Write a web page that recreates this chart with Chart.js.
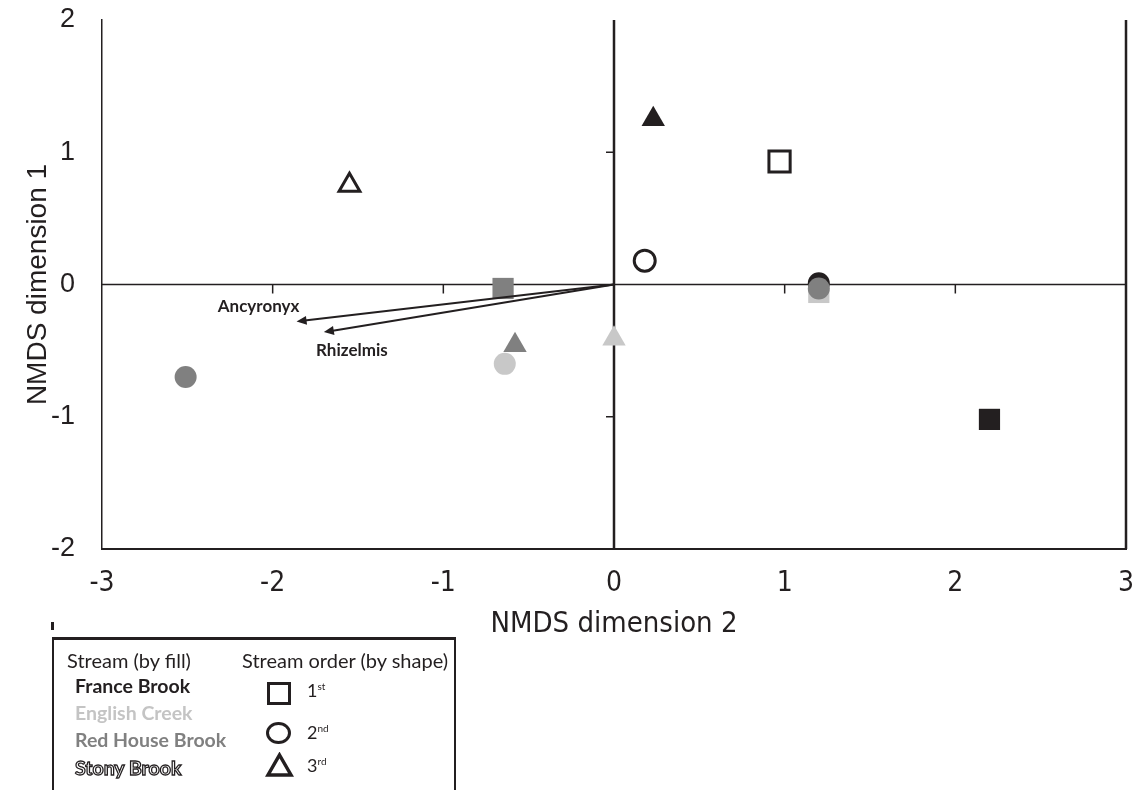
<!DOCTYPE html>
<html>
<head>
<meta charset="utf-8">
<script src="https://cdn.jsdelivr.net/npm/chart.js@4.4.1/dist/chart.umd.min.js"></script>
<style>
  body { margin: 0; background: #fff; width: 1144px; height: 790px; overflow: hidden; position: relative; font-family: Lato, "Open Sans", sans-serif; color: #231f20; }
  #wrap { position: absolute; left: 0; top: 0; width: 1144px; height: 660px; }
  .lg { position: absolute; white-space: nowrap; line-height: 1; }
  .hd { font-size: 20px; }
  .st { font-size: 19.5px; font-weight: bold; }
  .ord { font-size: 18px; }
  .ord sup { font-size: 10px; vertical-align: 7px; }
  #box { position: absolute; left: 52px; top: 637px; width: 400px; height: 200px; border: 3px solid #231f20; border-left-width: 2.5px; border-right-width: 2.5px; }
  #nub { position: absolute; left: 51px; top: 622px; width: 3px; height: 8px; background: #231f20; }
</style>
</head>
<body>
<div id="wrap"><canvas id="nmds"></canvas></div>

<div id="nub"></div>
<div id="box"></div>
<div class="lg hd" style="left:67px; top:650px;">Stream (by fill)</div>
<div class="lg hd" style="left:242px; top:650px;">Stream order (by shape)</div>
<div class="lg st" style="left:75px; top:676px; color:#231f20;">France Brook</div>
<div class="lg st" style="left:75px; top:703px; color:#c4c4c4;">English Creek</div>
<div class="lg st" style="left:75px; top:730px; color:#808080;">Red House Brook</div>
<div class="lg st" style="left:75px; top:758px; color:#fff; -webkit-text-stroke: 1.3px #231f20;">Stony Brook</div>
<div class="lg" style="left:267px; top:682px; width:24px; height:23px; border:3px solid #231f20; box-sizing:border-box;"></div>
<div class="lg" style="left:266px; top:722px; width:25px; height:22px; border:3px solid #231f20; border-radius:50%; box-sizing:border-box;"></div>
<svg class="lg" style="left:265px; top:752px;" width="29" height="26"><polygon points="14.5,3 26,23 3,23" fill="none" stroke="#231f20" stroke-width="3.5" stroke-linejoin="miter"/></svg>
<div class="lg ord" style="left:307px; top:681px;">1<sup>st</sup></div>
<div class="lg ord" style="left:307px; top:723px;">2<sup>nd</sup></div>
<div class="lg ord" style="left:307px; top:756px;">3<sup>rd</sup></div>

<script>
// site scores: NMDS dimension 2 (x), dimension 1 (y) and stream order of each site
const franceX = [2.20, 1.20, 0.23];
const franceY = [-1.02, 0.01, 1.25];
const franceOrder = [1, 2, 3];
const englishX = [1.20, -0.64, 0.00];
const englishY = [-0.06, -0.60, -0.41];
const englishOrder = [1, 2, 3];
const redHouseX = [-0.65, -2.51, -0.58, 1.20];
const redHouseY = [-0.03, -0.70, -0.46, -0.03];
const redHouseOrder = [1, 2, 3, 2];
const stonyX = [0.97, 0.18, -1.55];
const stonyY = [0.93, 0.18, 0.75];
const stonyOrder = [1, 2, 3];

// taxon vectors
const vectorNames = ['Ancyronyx', 'Rhizelmis'];
const vectorX = [-1.86, -1.70];
const vectorY = [-0.28, -0.36];

const xTicks = [-3, -2, -1, 0, 1, 2, 3];
const yTicks = [-2, -1, 0, 1, 2];

const ink = '#231f20';
const shapes = { 1: 'rect', 2: 'circle', 3: 'triangle' };
const sizesFilled = { 1: 15, 2: 11, 3: 13.5 };
const sizesOpen = { 1: 15, 2: 10.5, 3: 12 };

const makeSet = (label, xs, ys, ord, fill, open, order) => {
  return {
    label: label,
    order: order,
    data: xs.map((v, i) => ({ x: v, y: ys[i] })),
    pointStyle: ord.map((o) => shapes[o]),
    pointRadius: ord.map((o) => (open ? sizesOpen[o] : sizesFilled[o])),
    backgroundColor: fill,
    borderColor: open ? ink : fill,
    borderWidth: open ? 3 : 0,
  };
};

// zero lines with their tick marks, plus the right frame
const crossPlugin = {
  id: 'cross',
  beforeDatasetsDraw(chart) {
    const { ctx, chartArea: a, scales: { x, y } } = chart;
    const x0 = x.getPixelForValue(0);
    const y0 = y.getPixelForValue(0);
    const line = (x1, y1, x2, y2) => { ctx.beginPath(); ctx.moveTo(x1, y1); ctx.lineTo(x2, y2); ctx.stroke(); };
    ctx.save();
    ctx.strokeStyle = ink;
    ctx.lineWidth = 2.5;
    line(a.right, a.top, a.right, a.bottom);
    ctx.lineWidth = 1.5;
    line(a.left, y0, a.right, y0);
    xTicks.forEach((v) => {
      if (v !== 0 && Math.abs(v) !== 3) line(x.getPixelForValue(v), y0, x.getPixelForValue(v), y0 + 9);
    });
    ctx.lineWidth = 2.5;
    line(x0, a.top, x0, a.bottom);
    ctx.lineWidth = 1.5;
    yTicks.forEach((v) => {
      if (v !== 0 && Math.abs(v) !== 2) line(x0 - 8, y.getPixelForValue(v), x0, y.getPixelForValue(v));
    });
    ctx.restore();
  },
  afterDatasetsDraw(chart) {
    const { ctx, scales: { x, y } } = chart;
    const ox = x.getPixelForValue(0);
    const oy = y.getPixelForValue(0);
    const labelOffsets = [[-38, -15], [28, 18]];
    ctx.save();
    ctx.strokeStyle = ink;
    ctx.fillStyle = ink;
    ctx.lineWidth = 2;
    vectorNames.forEach((name, i) => {
      const tx = x.getPixelForValue(vectorX[i]);
      const ty = y.getPixelForValue(vectorY[i]);
      const ang = Math.atan2(ty - oy, tx - ox);
      ctx.beginPath();
      ctx.moveTo(ox, oy);
      ctx.lineTo(tx - Math.cos(ang) * 6, ty - Math.sin(ang) * 6);
      ctx.stroke();
      ctx.beginPath();
      ctx.moveTo(tx, ty);
      ctx.lineTo(tx - Math.cos(ang) * 10 + Math.sin(ang) * 4.5, ty - Math.sin(ang) * 10 - Math.cos(ang) * 4.5);
      ctx.lineTo(tx - Math.cos(ang) * 10 - Math.sin(ang) * 4.5, ty - Math.sin(ang) * 10 + Math.cos(ang) * 4.5);
      ctx.closePath();
      ctx.fill();
      ctx.font = 'bold 17px Lato, sans-serif';
      ctx.textAlign = 'center';
      ctx.textBaseline = 'middle';
      ctx.fillText(name, tx + labelOffsets[i][0], ty + labelOffsets[i][1]);
    });
    ctx.restore();
  },
};

new Chart(document.getElementById('nmds'), {
  type: 'scatter',
  data: {
    datasets: [
      makeSet('English Creek', englishX, englishY, englishOrder, '#c8c8c8', false, 4),
      makeSet('France Brook', franceX, franceY, franceOrder, ink, false, 3),
      makeSet('Stony Brook', stonyX, stonyY, stonyOrder, '#ffffff', true, 2),
      makeSet('Red House Brook', redHouseX, redHouseY, redHouseOrder, '#808080', false, 1),
    ],
  },
  options: {
    responsive: true,
    maintainAspectRatio: false,
    animation: false,
    events: [],
    layout: { padding: { top: 20, right: 18, left: 0, bottom: 0 } },
    plugins: { legend: { display: false }, tooltip: { enabled: false } },
    scales: {
      x: {
        type: 'linear',
        min: -3,
        max: 3,
        afterBuildTicks: (s) => { s.ticks = xTicks.map((v) => ({ value: v })); },
        afterFit: (s) => { s.height = 111; s.paddingLeft = 0; s.paddingRight = 0; },
        grid: { display: false, drawTicks: false },
        border: { display: true, color: ink, width: 2 },
        ticks: {
          padding: 18,
          color: ink,
          font: { family: '"Liberation Sans Narrow", "DejaVu Sans Condensed", sans-serif', size: 28 },
        },
        title: {
          display: true,
          text: 'NMDS dimension 2',
          color: ink,
          padding: { bottom: 18 },
          font: { family: '"Liberation Sans Narrow", "DejaVu Sans Condensed", sans-serif', size: 29 },
        },
      },
      y: {
        type: 'linear',
        min: -2,
        max: 2,
        afterBuildTicks: (s) => { s.ticks = yTicks.map((v) => ({ value: v })); },
        afterFit: (s) => { s.width = 102; s.paddingTop = 0; s.paddingBottom = 0; },
        grid: { display: false, drawTicks: false },
        border: { display: true, color: ink, width: 1.5 },
        ticks: {
          padding: 27,
          color: ink,
          font: { family: '"Liberation Sans", Arial, sans-serif', size: 27 },
        },
        title: {
          display: true,
          text: 'NMDS dimension 1',
          color: ink,
          padding: { top: 21 },
          font: { family: '"Liberation Sans", Arial, sans-serif', size: 28 },
        },
      },
    },
  },
  plugins: [crossPlugin],
});
</script>
</body>
</html>
